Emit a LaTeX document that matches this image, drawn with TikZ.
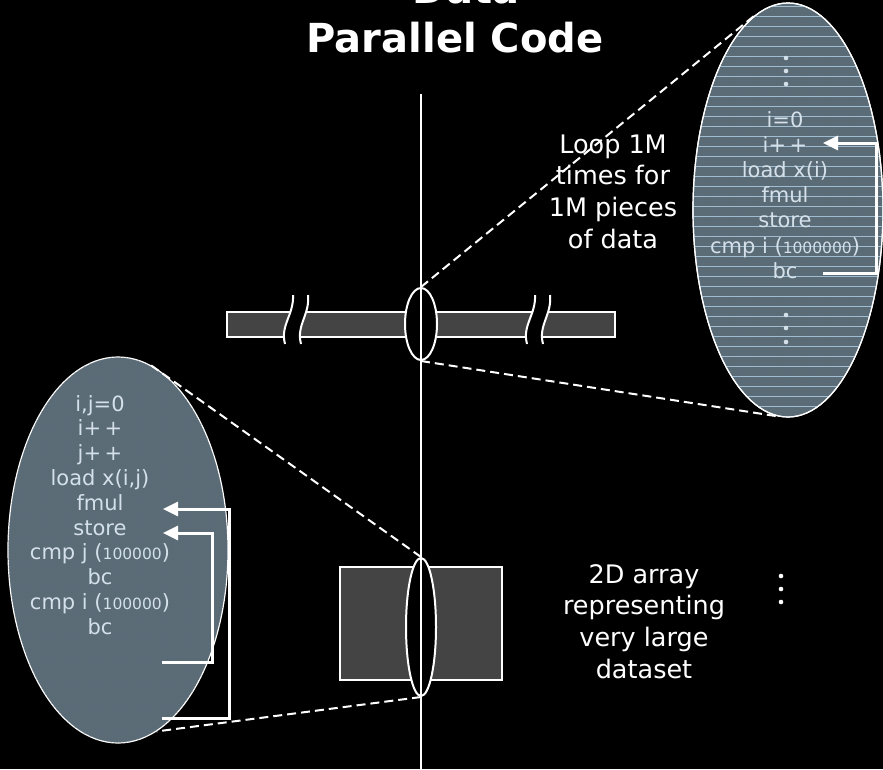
\documentclass[tikz,border=0pt]{standalone}
\usepackage{fontspec}
\setmainfont{DejaVu Sans}
\usetikzlibrary{shapes.geometric,arrows.meta,patterns}
\definecolor{slate}{RGB}{90,108,120}
\definecolor{codetext}{RGB}{212,224,234}
\definecolor{scan}{RGB}{160,188,208}
\definecolor{bargray}{RGB}{68,68,68}
\newcommand\smalldig[1]{{\fontsize{15.5}{15.5}\selectfont #1}}
\tikzset{%
	bar/.style      = {draw=white, line width=2pt, fill=bargray, inner sep=0pt},
	lens/.style     = {ellipse, draw=white, line width=2pt, fill=black, inner sep=0pt},
	zoomlens/.style = {ellipse, draw=white, line width=1.2pt, fill=slate, inner sep=0pt,
		postaction={pattern=dots, pattern color=black!60}},
	headline/.style = {text=white, font=\bfseries\fontsize{40}{40}\selectfont, inner sep=0pt, anchor=base},
	code/.style     = {text=codetext, font=\fontsize{21}{24}\selectfont, inner sep=0pt, anchor=base},
	note/.style     = {text=white, font=\fontsize{25.5}{31}\selectfont, inner sep=0pt, anchor=base},
	zoomline/.style = {draw=white, line width=2pt, dash pattern=on 9pt off 5pt},
	backarrow/.style = {draw=white, line width=3pt, -{Triangle[length=15pt,width=14pt]}}
}

\begin{document}
\begin{tikzpicture}[x=1pt, y=-1pt]
	\fill[black] (0,0) rectangle (883,769);
	\useasboundingbox (0,0) rectangle (883,769);

	% title
	\node[headline] (ttop) at (466,3) {Data};
	\node[headline] (tbot) at (455,52) {Parallel Code};

	% the data: long 1D strip and 2D block
	\node[bar, minimum width=388pt, minimum height=25pt] (strip) at (421,324.5) {};
	\node[bar, minimum width=162pt, minimum height=113pt] (grid) at (421,623.5) {};

	% breaks in the strip
	\foreach \bx in {287,529} {
		\fill[black] (\bx+6,295) .. controls (\bx+7,315) and (\bx-7,325) .. (\bx-2,344)
			-- (\bx+14,344) .. controls (\bx+9,325) and (\bx+23,315) .. (\bx+21,295) -- cycle;
		\draw[white, line width=2pt] (\bx+6,295) .. controls (\bx+7,315) and (\bx-7,325) .. (\bx-2,344);
		\draw[white, line width=2pt] (\bx+21,295) .. controls (\bx+23,315) and (\bx+9,325) .. (\bx+14,344);
	}

	% lenses on the axis
	\node[lens, minimum width=32pt, minimum height=72pt] (lensA) at (421,324) {};
	\node[lens, minimum width=30pt, minimum height=138pt] (lensB) at (421,627) {};
	\coordinate (axTop) at (421,94);
	\coordinate (axBot) at (421,769);
	\draw[white, line width=2.5pt] (axTop) -- (axBot);

	% zoomed views
	\node[zoomlens, minimum width=190pt, minimum height=414pt] (zoomR) at (788,210) {};
	\begin{scope}
		\clip (788,210) ellipse [x radius=95pt, y radius=207pt];
		\foreach \yy in {6,16,...,416}
			\draw[scan, line width=0.8pt] (690,\yy) -- (885,\yy);
	\end{scope}
	\draw[white, line width=1.2pt] (788,210) ellipse [x radius=95pt, y radius=207pt];
	\node[zoomlens, minimum width=220pt, minimum height=386pt] (zoomL) at (118,550) {};

	\draw[zoomline] (lensA.north) -- (zoomR.100.7);
	\draw[zoomline] (lensA.south) -- (zoomR.267.5);
	\draw[zoomline] (lensB.north) -- (zoomL.80.9);
	\draw[zoomline] (lensB.south) -- (zoomL.-78);

	% 1D loop
	\foreach \dy in {58,71,84,315,328,342}
		\fill[codetext] (786,\dy) circle (2.3pt);
	\foreach \txt [count=\k from 0] in {{i=0},{i+\,+},{load x(i)},{fmul},{store},{cmp i (\smalldig{1000000})},{bc}}
		\node[code] (r\k) at (785,127+25.2*\k) {\txt};
	\coordinate (rFrom) at (823,273);
	\coordinate (rTo) at (823,143);
	\draw[backarrow] (rFrom) -- ++(53,0) |- (rTo);

	% 2D loop
	\foreach \txt [count=\k from 0] in {{i,j=0},{i+\,+},{j+\,+},{load x(i,j)},{fmul},{store},{cmp j (\smalldig{100000})},{bc},{cmp i (\smalldig{100000})},{bc}}
		\node[code] (l\k) at (100,411+24.8*\k) {\txt};
	\coordinate (iFrom) at (162,718);
	\coordinate (iTo) at (163,509);
	\coordinate (jFrom) at (162,662);
	\coordinate (jTo) at (163,533);
	\draw[backarrow] (iFrom) -- ++(67,0) |- (iTo);
	\draw[backarrow] (jFrom) -- ++(50,0) |- (jTo);

	% notes
	\foreach \txt [count=\k from 0] in {Loop 1M, times for, 1M pieces, of data}
		\node[note] (loop\k) at (613,153+31.7*\k) {\txt};
	\foreach \txt [count=\k from 0] in {2D array, representing, very large, dataset}
		\node[note] (desc\k) at (644,583+31.7*\k) {\txt};
	\foreach \dy in {576,589,602}
		\fill[white] (781,\dy) circle (2.3pt);
\end{tikzpicture}
\end{document}
